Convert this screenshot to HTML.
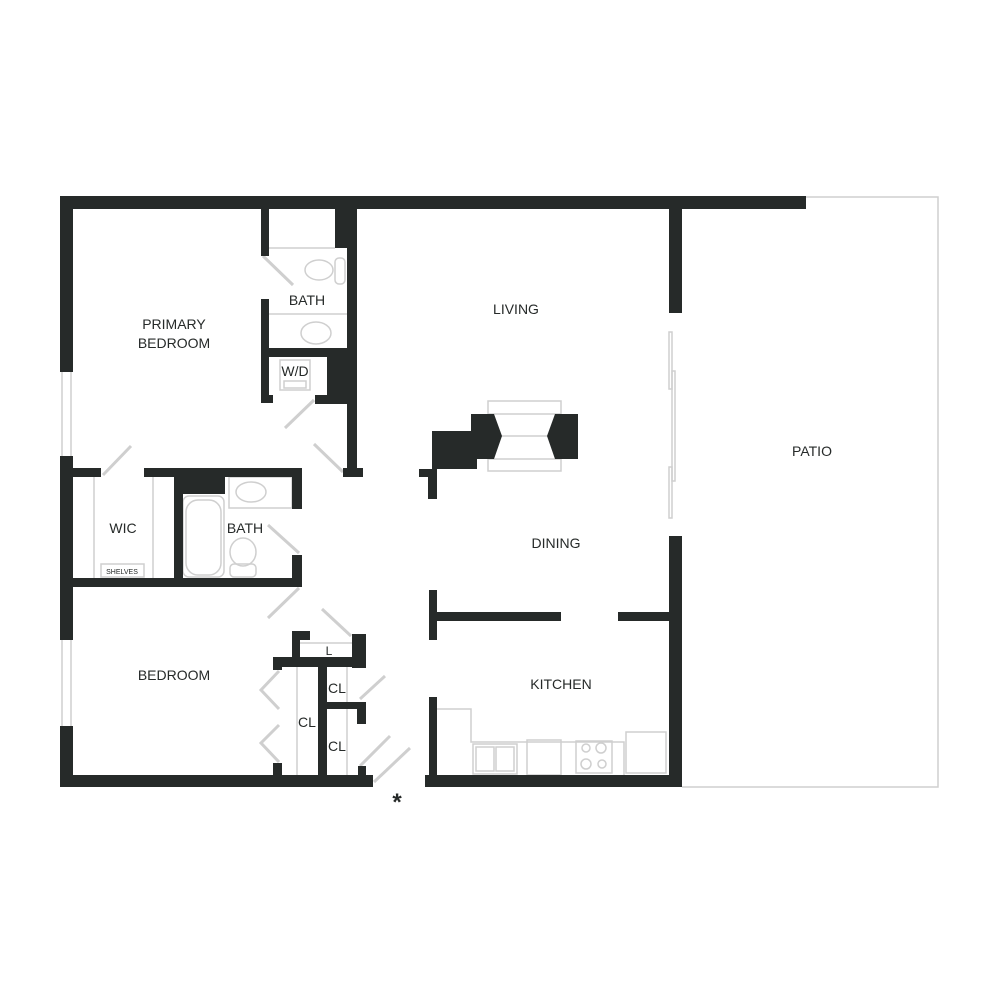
<!DOCTYPE html>
<html><head><meta charset="utf-8"><style>
html,body{margin:0;padding:0;background:#fff;}
svg{display:block}
text{font-family:"Liberation Sans",sans-serif;fill:#262a29;font-size:14px;text-anchor:middle}
</style></head><body>
<svg width="1000" height="1000" viewBox="0 0 1000 1000" xmlns="http://www.w3.org/2000/svg">
<g fill="none" stroke="#cfcfcf" stroke-width="1.5">
<polyline points="806,197 938,197 938,787 682,787"/>
<!-- windows -->
<line x1="62" y1="372" x2="62" y2="456"/><line x1="71" y1="372" x2="71" y2="456"/>
<line x1="62" y1="640" x2="62" y2="726"/><line x1="71" y1="640" x2="71" y2="726"/>
<!-- sliding door -->
<rect x="669" y="332" width="3" height="57"/><rect x="672" y="371" width="3" height="110"/><rect x="669" y="467" width="3" height="51"/>
<!-- bath 1 -->
<line x1="269" y1="248" x2="335" y2="248"/>
<ellipse cx="319" cy="270" rx="14" ry="10"/><rect x="335" y="258" width="10" height="26" rx="4"/>
<line x1="269" y1="314" x2="347" y2="314"/>
<ellipse cx="316" cy="333" rx="15" ry="11"/>
<rect x="280" y="360" width="30" height="30"/><rect x="284" y="381" width="22" height="7"/>
<!-- doors -->
<line x1="263" y1="256" x2="293" y2="285" stroke-width="3"/>
<line x1="285" y1="428" x2="314" y2="400" stroke-width="3"/>
<line x1="314" y1="444" x2="343" y2="472" stroke-width="3"/>
<line x1="103" y1="475" x2="131" y2="446" stroke-width="3"/>
<line x1="268" y1="525" x2="299" y2="553" stroke-width="3"/>
<line x1="268" y1="618" x2="299" y2="588" stroke-width="3"/>
<line x1="322" y1="609" x2="351" y2="636" stroke-width="3"/>
<line x1="360" y1="699" x2="385" y2="676" stroke-width="3"/>
<line x1="360" y1="766" x2="390" y2="736" stroke-width="3"/>
<line x1="374" y1="782" x2="410" y2="748" stroke-width="3"/>
<polyline points="279,671 261,690 279,709" stroke-width="3"/>
<polyline points="279,725 261,743 279,762" stroke-width="3"/>
<!-- WIC -->
<line x1="94" y1="477" x2="94" y2="578"/><line x1="153" y1="477" x2="153" y2="578"/>
<rect x="101" y="564" width="43" height="13"/>
<!-- bath 2 -->
<rect x="183" y="496" width="41" height="81" rx="6"/>
<rect x="186" y="500" width="35" height="75" rx="12"/>
<rect x="229" y="477" width="63" height="31"/><ellipse cx="251" cy="492" rx="15" ry="10"/>
<ellipse cx="243" cy="552" rx="13" ry="14"/><rect x="230" y="564" width="26" height="13" rx="4"/>
<!-- closets -->
<line x1="300" y1="643" x2="352" y2="643"/>
<line x1="297" y1="667" x2="297" y2="775"/><line x1="347" y1="667" x2="347" y2="775"/>
<!-- fireplace -->
<rect x="488" y="401" width="73" height="70"/>
<line x1="488" y1="414" x2="561" y2="414"/><line x1="488" y1="436" x2="561" y2="436"/><line x1="488" y1="459" x2="561" y2="459"/>
<!-- kitchen -->
<polyline points="437,709 471,709 471,742 624,742 624,775"/>
<rect x="473" y="744" width="44" height="30"/><rect x="476" y="747" width="18" height="24"/><rect x="496" y="747" width="18" height="24"/>
<rect x="527" y="740" width="34" height="35"/>
<rect x="576" y="741" width="36" height="32"/>
<circle cx="586" cy="748" r="4"/><circle cx="601" cy="748" r="5"/><circle cx="586" cy="764" r="5"/><circle cx="602" cy="764" r="4"/>
<rect x="626" y="732" width="40" height="41"/>
</g>
<g fill="#262a29">
<rect x="60" y="196" width="746" height="13"/>
<rect x="60" y="196" width="13" height="176"/>
<rect x="60" y="456" width="13" height="184"/>
<rect x="60" y="726" width="13" height="61"/>
<rect x="60" y="775" width="313" height="12"/>
<rect x="425" y="775" width="257" height="12"/>
<rect x="669" y="209" width="13" height="104"/>
<rect x="669" y="536" width="13" height="251"/>
<!-- bath1 walls -->
<rect x="261" y="209" width="8" height="47"/>
<rect x="261" y="299" width="8" height="104"/>
<rect x="261" y="395" width="12" height="8"/>
<rect x="335" y="209" width="22" height="39"/>
<rect x="347" y="209" width="10" height="262"/>
<rect x="269" y="348" width="78" height="9"/>
<rect x="327" y="348" width="20" height="56"/>
<rect x="315" y="395" width="32" height="9"/>
<rect x="343" y="468" width="20" height="9"/>
<!-- WIC / bath2 -->
<rect x="73" y="468" width="28" height="9"/>
<rect x="144" y="468" width="158" height="9"/>
<rect x="174" y="477" width="51" height="17"/>
<rect x="174" y="477" width="9" height="110"/>
<rect x="292" y="477" width="10" height="32"/>
<rect x="292" y="555" width="10" height="32"/>
<rect x="73" y="578" width="229" height="9"/>
<!-- closets -->
<rect x="292" y="631" width="8" height="29"/><rect x="292" y="631" width="18" height="9"/>
<rect x="352" y="634" width="14" height="34"/>
<rect x="273" y="657" width="93" height="10"/>
<rect x="273" y="657" width="9" height="13"/>
<rect x="318" y="667" width="9" height="108"/>
<rect x="327" y="702" width="39" height="7"/><rect x="357" y="702" width="9" height="22"/>
<rect x="358" y="766" width="8" height="9"/>
<rect x="273" y="763" width="9" height="12"/>
<!-- hall / dining -->
<rect x="429" y="590" width="8" height="50"/>
<rect x="429" y="697" width="8" height="90"/>
<rect x="429" y="612" width="132" height="9"/>
<rect x="618" y="612" width="51" height="9"/>
<!-- fireplace -->
<polygon points="471,414 494,414 502,436 494,459 477,459 477,469 432,469 432,431 471,431"/>
<rect x="419" y="469" width="18" height="8"/><rect x="428" y="469" width="9" height="30"/>
<polygon points="555,414 578,414 578,459 555,459 547,436"/>
</g>
<text x="516" y="314">LIVING</text>
<text x="174" y="329">PRIMARY</text>
<text x="174" y="348">BEDROOM</text>
<text x="307" y="305">BATH</text>
<text x="295" y="376">W/D</text>
<text x="123" y="533">WIC</text>
<text x="245" y="533">BATH</text>
<text x="122" y="574" style="font-size:7px">SHELVES</text>
<text x="174" y="680">BEDROOM</text>
<text x="329" y="655" style="font-size:12px">L</text>
<text x="337" y="693">CL</text>
<text x="307" y="727">CL</text>
<text x="337" y="751">CL</text>
<text x="556" y="548">DINING</text>
<text x="561" y="689">KITCHEN</text>
<text x="812" y="456">PATIO</text>
<text x="397" y="810" style="font-size:24px;font-weight:bold">*</text>
</svg>
</body></html>
